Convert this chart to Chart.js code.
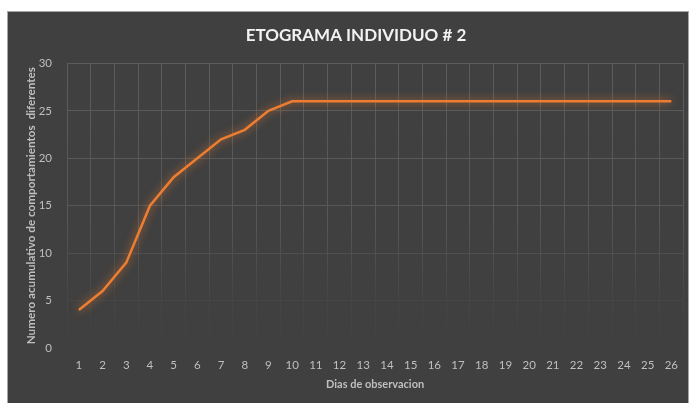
<!DOCTYPE html>
<html>
<head>
<meta charset="utf-8">
<script src="https://cdn.jsdelivr.net/npm/chart.js@4/dist/chart.umd.min.js"></script>
<style>
  body { margin: 0; background: #ffffff; }
  #wrap {
    position: absolute; left: 7px; top: 11px;
    width: 680px; height: 392px;
    background: #404040;
    border-left: 1px solid #a6a6a6; border-top: 1px solid #a6a6a6; border-right: 1px solid #a6a6a6;
  }
</style>
</head>
<body>
<div id="wrap"><canvas id="etograma"></canvas></div>
<script>
const dias = ["1","2","3","4","5","6","7","8","9","10","11","12","13","14","15","16","17","18","19","20","21","22","23","24","25","26"];
const comportamientos = [4, 6, 9, 15, 18, 20, 22, 23, 25, 26, 26, 26, 26, 26, 26, 26, 26, 26, 26, 26, 26, 26, 26, 26, 26, 26];
const yTicks = [0, 5, 10, 15, 20, 25, 30];

const textColor = "#bfbfbf";
const fontFamily = "Lato, 'Open Sans', sans-serif";

// gridlines fade out towards the bottom of the plot
let gridGradient = null;
function gridColor(c) {
  const area = c.chart.chartArea;
  if (!area) return "#595959";
  if (!gridGradient) {
    gridGradient = c.chart.ctx.createLinearGradient(0, area.top, 0, area.bottom);
    gridGradient.addColorStop(0, "#5c5c5c");
    gridGradient.addColorStop(0.55, "#575757");
    gridGradient.addColorStop(0.8, "#474747");
    gridGradient.addColorStop(1, "#404040");
  }
  return gridGradient;
}

// soft orange glow under the line
const glow = {
  id: "glow",
  beforeDatasetDraw(chart) {
    const c = chart.ctx;
    c.save();
    c.shadowColor = "rgba(237,125,49,0.8)";
    c.shadowBlur = 9;
  },
  afterDatasetDraw(chart) {
    chart.ctx.restore();
  }
};

const ctx = document.getElementById("etograma").getContext("2d");
new Chart(ctx, {
  type: "line",
  data: {
    labels: dias,
    datasets: [{
      label: "Comportamientos",
      data: comportamientos,
      borderColor: "#ed7d31",
      borderWidth: 2.5,
      pointRadius: 0,
      tension: 0,
      fill: false
    }]
  },
  options: {
    responsive: true,
    maintainAspectRatio: false,
    animation: false,
    layout: { padding: { top: 8, right: 0, bottom: 6, left: 16 } },
    plugins: {
      legend: { display: false },
      tooltip: { enabled: false },
      title: {
        display: true,
        text: "ETOGRAMA INDIVIDUO # 2",
        color: "#f2f2f2",
        font: { family: fontFamily, size: 17, weight: "bold" },
        padding: { top: 5, bottom: 18 }
      }
    },
    scales: {
      x: {
        offset: true,
        grid: { offset: true, color: gridColor, drawTicks: false },
        border: { display: false },
        ticks: {
          color: textColor,
          padding: 10,
          maxRotation: 0,
          autoSkip: false,
          font: { family: fontFamily, size: 11.5 }
        },
        title: {
          display: true,
          text: "Dias de observacion",
          color: textColor,
          font: { family: fontFamily, size: 11, weight: "bold" },
          padding: { top: -4, bottom: 7 }
        }
      },
      y: {
        min: 0,
        max: 30,
        afterBuildTicks: (axis) => { axis.ticks = yTicks.map((v) => ({ value: v })); },
        afterFit: (axis) => { axis.width = 43; },
        grid: {
          color: (c) => (c.tick && c.tick.value === 0 ? "rgba(0,0,0,0)" : gridColor(c)),
          drawTicks: false
        },
        border: { display: false },
        ticks: {
          color: textColor,
          padding: 15,
          font: { family: fontFamily, size: 11.5 }
        },
        title: {
          display: true,
          text: "Numero acumulativo de comportamientos  diferentes",
          color: textColor,
          font: { family: fontFamily, size: 11.7, weight: "bold" },
          padding: { top: 0, bottom: 0 }
        }
      }
    }
  },
  plugins: [glow]
});
</script>
</body>
</html>
